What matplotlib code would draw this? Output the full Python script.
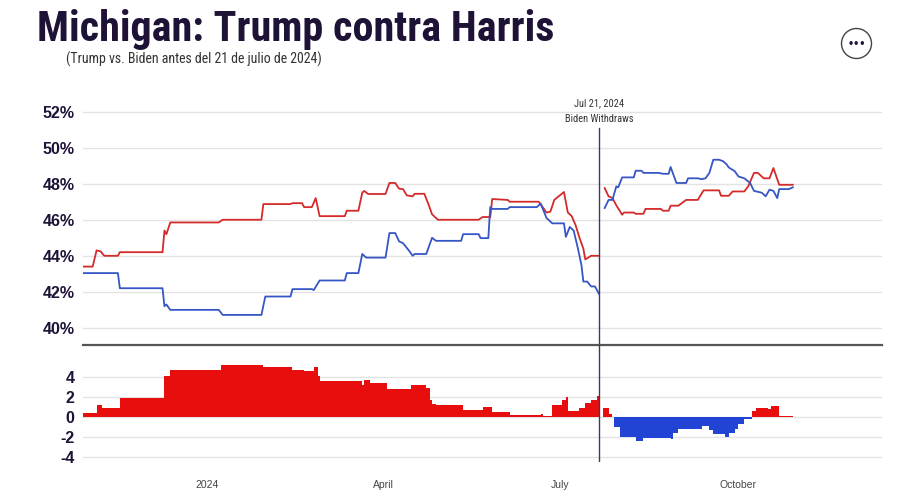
import matplotlib
matplotlib.use("Agg")
import matplotlib.pyplot as plt
from matplotlib.patches import Ellipse
import pandas as pd

# Trump (red) and Biden/Harris (blue) polling averages, Michigan
TRUMP_PRE_DATES = ["2023-10-29", "2023-11-03", "2023-11-05", "2023-11-07", "2023-11-09", "2023-11-16",
                   "2023-11-17", "2023-12-09", "2023-12-10", "2023-12-11", "2023-12-13", "2024-01-07",
                   "2024-01-09", "2024-01-29", "2024-01-30", "2024-02-13", "2024-02-14", "2024-02-19",
                   "2024-02-20", "2024-02-24", "2024-02-26", "2024-02-28", "2024-03-12", "2024-03-13",
                   "2024-03-19", "2024-03-21", "2024-03-22", "2024-03-24", "2024-04-02", "2024-04-04",
                   "2024-04-07", "2024-04-09", "2024-04-11", "2024-04-13", "2024-04-16", "2024-04-17",
                   "2024-04-22", "2024-04-24", "2024-04-26", "2024-04-29", "2024-05-20", "2024-05-22",
                   "2024-05-26", "2024-05-27", "2024-06-04", "2024-06-05", "2024-06-20", "2024-06-22",
                   "2024-06-24", "2024-06-26", "2024-06-28", "2024-07-03", "2024-07-05", "2024-07-07",
                   "2024-07-09", "2024-07-11", "2024-07-13", "2024-07-14", "2024-07-17", "2024-07-21"]
TRUMP_PRE = [43.4, 43.4, 44.3, 44.25, 44.0, 44.0,
             44.2, 44.2, 45.4, 45.2, 45.85, 45.85,
             46.0, 46.0, 46.87, 46.87, 46.92, 46.92,
             46.7, 46.7, 47.2, 46.2, 46.2, 46.5,
             46.5, 47.5, 47.6, 47.43, 47.43, 48.04,
             48.04, 47.72, 47.7, 47.35, 47.3, 47.44,
             47.44, 46.9, 46.3, 46.0, 46.0, 46.15,
             46.15, 47.15, 47.1, 47.0, 47.0, 46.7,
             46.4, 46.45, 47.1, 47.54, 46.4, 46.2,
             45.7, 45.0, 44.4, 43.8, 44.0, 44.0]

BIDEN_DATES = ["2023-10-29", "2023-11-16", "2023-11-17", "2023-12-09", "2023-12-10", "2023-12-11",
               "2023-12-13", "2024-01-07", "2024-01-09", "2024-01-29", "2024-01-31", "2024-02-13",
               "2024-02-14", "2024-02-24", "2024-02-25", "2024-02-28", "2024-03-12", "2024-03-13",
               "2024-03-19", "2024-03-21", "2024-03-23", "2024-04-02", "2024-04-04", "2024-04-07",
               "2024-04-09", "2024-04-11", "2024-04-14", "2024-04-16", "2024-04-17", "2024-04-23",
               "2024-04-26", "2024-04-28", "2024-05-11", "2024-05-12", "2024-05-20", "2024-05-21",
               "2024-05-25", "2024-05-26", "2024-05-27", "2024-06-04", "2024-06-05", "2024-06-19",
               "2024-06-21", "2024-06-24", "2024-06-27", "2024-07-03", "2024-07-04", "2024-07-06",
               "2024-07-08", "2024-07-10", "2024-07-12", "2024-07-13", "2024-07-15", "2024-07-17",
               "2024-07-19", "2024-07-21"]
BIDEN = [43.04, 43.04, 42.2, 42.2, 41.2, 41.3,
         41.0, 41.0, 40.72, 40.72, 41.74, 41.74,
         42.15, 42.15, 42.1, 42.63, 42.63, 43.04,
         43.04, 44.1, 43.9, 43.9, 45.26, 45.26,
         44.8, 44.7, 44.3, 44.0, 44.1, 44.1,
         45.0, 44.83, 44.83, 45.2, 45.2, 44.98,
         44.98, 46.7, 46.6, 46.6, 46.7, 46.7,
         46.9, 46.1, 45.8, 45.8, 45.05, 45.6,
         45.4, 44.5, 43.5, 42.57, 42.57, 42.3,
         42.3, 41.9]

HARRIS_DATES = ["2024-07-24", "2024-07-26", "2024-07-28", "2024-07-30", "2024-07-31", "2024-08-02",
                "2024-08-08", "2024-08-09", "2024-08-12", "2024-08-13", "2024-08-21", "2024-08-23",
                "2024-08-26", "2024-08-27", "2024-08-30", "2024-09-04", "2024-09-05", "2024-09-10",
                "2024-09-12", "2024-09-14", "2024-09-16", "2024-09-18", "2024-09-21", "2024-09-23",
                "2024-09-25", "2024-09-26", "2024-09-29", "2024-10-01", "2024-10-04", "2024-10-07",
                "2024-10-09", "2024-10-13", "2024-10-15", "2024-10-17", "2024-10-19", "2024-10-21",
                "2024-10-22", "2024-10-27", "2024-10-29"]
HARRIS = [46.65, 47.1, 47.1, 47.85, 47.8, 48.35,
          48.35, 48.72, 48.72, 48.6, 48.6, 48.55,
          48.55, 48.93, 48.04, 48.04, 48.3, 48.3,
          48.25, 48.3, 48.6, 49.33, 49.33, 49.25,
          49.06, 48.9, 48.7, 48.4, 48.3, 48.04,
          47.6, 47.5, 47.3, 47.67, 47.6, 47.2,
          47.7, 47.7, 47.8]

TRUMP_POST_DATES = ["2024-07-24", "2024-07-26", "2024-07-28", "2024-07-30", "2024-08-02", "2024-08-03",
                    "2024-08-08", "2024-08-09", "2024-08-13", "2024-08-14", "2024-08-22", "2024-08-23",
                    "2024-08-26", "2024-08-27", "2024-08-31", "2024-09-04", "2024-09-10", "2024-09-13",
                    "2024-09-21", "2024-09-22", "2024-09-26", "2024-09-28", "2024-10-04", "2024-10-06",
                    "2024-10-09", "2024-10-11", "2024-10-14", "2024-10-17", "2024-10-19", "2024-10-22",
                    "2024-10-29"]
TRUMP_POST = [47.76, 47.3, 47.2, 46.8, 46.28, 46.4,
              46.4, 46.33, 46.33, 46.6, 46.6, 46.5,
              46.5, 46.78, 46.78, 47.1, 47.1, 47.63,
              47.63, 47.33, 47.33, 47.57, 47.57, 47.85,
              48.6, 48.6, 48.3, 48.3, 48.87, 47.94,
              47.94]

# Trump margin, plateaus: start date, end date, value
MARGIN_START = ["2023-10-29", "2023-11-05", "2023-11-08", "2023-11-17", "2023-12-10", "2023-12-13",
                "2024-01-08", "2024-01-30", "2024-02-14", "2024-02-20", "2024-02-25", "2024-02-27",
                "2024-02-28", "2024-03-21", "2024-03-22", "2024-03-25", "2024-04-03", "2024-04-09",
                "2024-04-15", "2024-04-23", "2024-04-25", "2024-04-26", "2024-04-28", "2024-05-12",
                "2024-05-22", "2024-05-27", "2024-06-05", "2024-06-21", "2024-06-22", "2024-06-27",
                "2024-07-02", "2024-07-04", "2024-07-05", "2024-07-11", "2024-07-14", "2024-07-17",
                "2024-07-20",
                "2024-07-23", "2024-07-26", "2024-07-28", "2024-07-29", "2024-08-01", "2024-08-09",
                "2024-08-13", "2024-08-27", "2024-08-28", "2024-08-31", "2024-09-12", "2024-09-16",
                "2024-09-18", "2024-09-24", "2024-09-26", "2024-09-29", "2024-10-01", "2024-10-04",
                "2024-10-08", "2024-10-10", "2024-10-16", "2024-10-18", "2024-10-22"]
MARGIN_END = MARGIN_START[1:37] + ["2024-07-21"] + MARGIN_START[38:] + ["2024-10-29"]
MARGIN = [0.4, 1.2, 0.95, 1.94, 4.07, 4.73,
          5.25, 5.05, 4.75, 4.56, 5.05, 4.15,
          3.58, 3.2, 3.68, 3.45, 2.76, 2.85,
          3.25, 2.9, 1.7, 1.3, 1.16, 0.72,
          1.05, 0.46, 0.23, 0.3, 0.13, 1.2,
          1.7, 1.97, 0.62, 0.9, 1.38, 1.7,
          2.1,
          0.95, 0.33, 0.05, -0.98, -1.97, -2.4,
          -2.07, -2.2, -1.57, -1.18, -0.85, -1.25,
          -1.74, -1.97, -1.6, -1.2, -0.7, -0.2,
          0.62, 0.9, 0.82, 1.15, 0.13]

WITHDRAW = "2024-07-21"
PCT_TICKS = [40, 42, 44, 46, 48, 50, 52]
MARGIN_TICKS = [-4, -2, 0, 2, 4]
X_TICKS = ["2024-01-01", "2024-04-01", "2024-07-01", "2024-10-01"]
X_LABELS = ["2024", "April", "July", "October"]

RED_LINE, BLUE_LINE = "#d42a2a", "#3556c4"
RED_BAR, BLUE_BAR = "#e80e0e", "#2244d4"
NAVY = "#1e1236"
GRID = "#e3e3e3"
COND = ["Roboto Condensed", "DejaVu Sans"]

plt.rcParams["font.family"] = ["Liberation Sans", "DejaVu Sans"]
plt.rcParams["axes.unicode_minus"] = False

fig = plt.figure(figsize=(9, 5.04), dpi=100)
W, H = 900, 504
left, right = 83 / W, 882 / W
ax = fig.add_axes([left, 1 - 345 / H, right - left, (345 - 99) / H])
axb = fig.add_axes([left, 1 - 462 / H, right - left, (462 - 345) / H], sharex=ax)

d = pd.to_datetime
ax.plot(d(TRUMP_PRE_DATES), TRUMP_PRE, color=RED_LINE, lw=1.3)
ax.plot(d(BIDEN_DATES), BIDEN, color=BLUE_LINE, lw=1.3)
ax.plot(d(TRUMP_POST_DATES), TRUMP_POST, color=RED_LINE, lw=1.3)
ax.plot(d(HARRIS_DATES), HARRIS, color=BLUE_LINE, lw=1.3)

starts, ends = d(MARGIN_START), d(MARGIN_END)
widths = (ends - starts).days
colors = [RED_BAR if m >= 0 else BLUE_BAR for m in MARGIN]
axb.bar(starts, MARGIN, width=widths, align="edge", color=colors, linewidth=0)

ax.set_ylim(39.05, 52.7)
ax.set_yticks(PCT_TICKS)
ax.set_yticklabels([f"{t}%" for t in PCT_TICKS])
axb.set_ylim(-4.5, 7.2)
axb.set_yticks(MARGIN_TICKS)
axb.set_xlim(d("2023-10-29"), d("2024-12-14"))
axb.set_xticks(d(X_TICKS))
axb.set_xticklabels(X_LABELS)

for a in (ax, axb):
    a.set_facecolor("none")
    a.grid(axis="y", color=GRID, lw=1)
    a.set_axisbelow(True)
    for s in ("top", "right", "left", "bottom"):
        a.spines[s].set_visible(False)
    a.tick_params(axis="y", length=0, pad=6, labelsize=11.5, labelcolor=NAVY)
    for lbl in a.get_yticklabels():
        lbl.set_fontweight("bold")
ax.spines["bottom"].set_visible(True)
ax.spines["bottom"].set_color("#555555")
ax.spines["bottom"].set_linewidth(1.6)
ax.tick_params(axis="x", length=0, labelbottom=False)
axb.tick_params(axis="x", length=0, pad=13, labelsize=7.5, labelcolor="#444444")

# Biden withdrawal marker
wd = d(WITHDRAW)
ax.axvline(wd, ymax=(51.1 - 39.05) / (52.7 - 39.05), color="#3e3a5a", lw=1, clip_on=False)
axb.axvline(wd, color="#3e3a5a", lw=1)
ax.text(wd, 52.45, "Jul 21, 2024", ha="center", va="center", fontsize=7.5, color="#333333", family=COND)
ax.text(wd, 51.6, "Biden Withdraws", ha="center", va="center", fontsize=7.5, color="#333333", family=COND)

fig.text(37 / W, 1 - 30 / H, "Michigan: Trump contra Harris", family=COND, fontweight="bold",
         fontsize=30.3, color=NAVY, va="center", ha="left")
fig.text(66 / W, 1 - 59 / H, "(Trump vs. Biden antes del 21 de julio de 2024)", family=COND,
         fontsize=10, color="#333333", va="center", ha="left")

fig.add_artist(Ellipse((856.5 / W, 1 - 43.5 / H), 30 / W, 30 / H, transform=fig.transFigure,
                       fill=False, ec="#444444", lw=1))
fig.text(856.5 / W, 1 - 44 / H, "•••", ha="center", va="center", fontsize=7, color=NAVY,
         fontweight="bold", family=["DejaVu Sans"])

fig.savefig("out.png", dpi=100)
